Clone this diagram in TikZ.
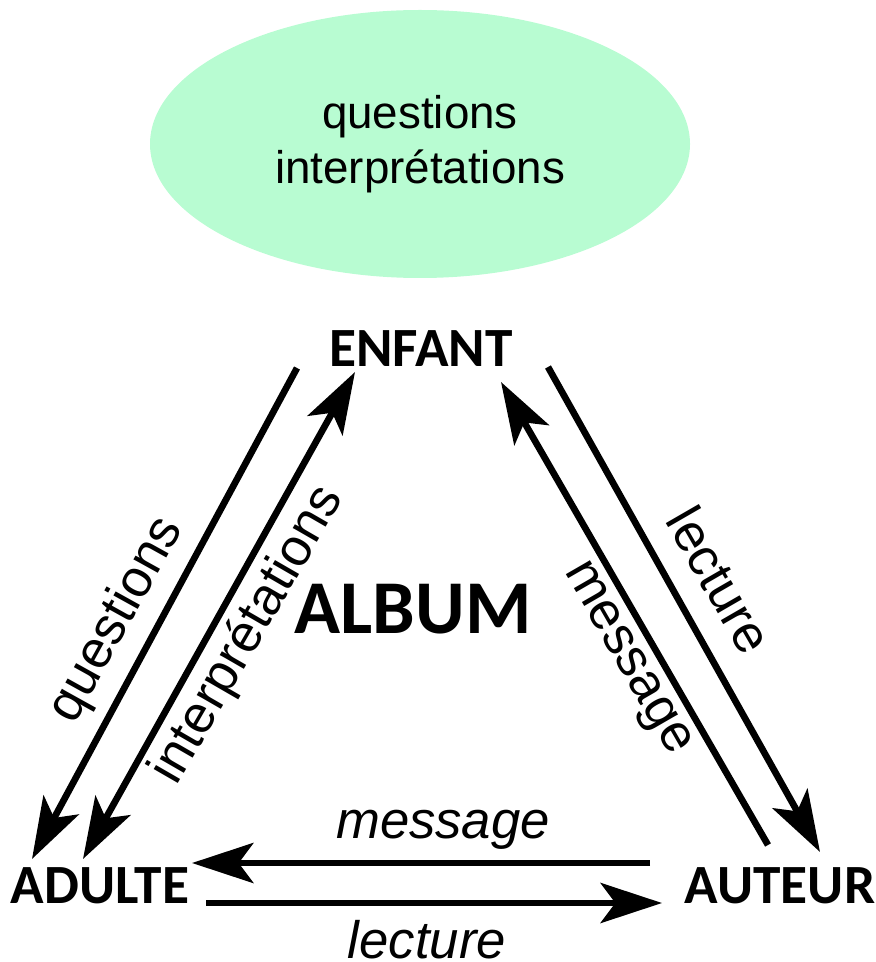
\documentclass[tikz,border=0pt]{standalone}
\usepackage{fontspec}
\setmainfont{Liberation Sans}
\newfontfamily\boldlabel{Carlito}
\usetikzlibrary{arrows.meta,shapes.geometric}
\definecolor{bubble}{HTML}{B8FCD2}
\tikzset{
  head/.tip={Stealth[length=46pt, width=30pt, inset=11pt]},
  pole/.style={font=\boldlabel\bfseries\fontsize{41.5}{46}\selectfont, inner sep=0pt, anchor=base},
  flow/.style={line width=5pt, -head},
  flowboth/.style={line width=5pt, head-head},
  tag/.style={font=\fontsize{39.5}{45}\selectfont, inner sep=0pt},
  itag/.style={font=\itshape\fontsize{39.5}{45}\selectfont, inner sep=0pt, anchor=base}
}
\begin{document}
\begin{tikzpicture}[x=0.75pt, y=-0.75pt]
\useasboundingbox (0,0) rectangle (875,962);

% top bubble
\node (bubble) [ellipse, fill=bubble, minimum width=405pt, minimum height=201pt,
  inner sep=0pt, align=center, font=\fontsize{34.3}{41.3}\selectfont] at (420,144)
  {questions\\interprétations};

% the three poles and the centre
\node (enfant) [pole] at (421,366) {ENFANT};
\node (adulte) [pole] at (100,903) {ADULTE};
\node (auteur) [pole] at (780,903) {AUTEUR};
\node (album) [pole, font=\boldlabel\bfseries\fontsize{57}{63}\selectfont] at (413,633) {ALBUM};

% connector end points
\coordinate (q1) at (297,368);  \coordinate (q2) at (32,859);
\coordinate (i1) at (83,859);   \coordinate (i2) at (355,372);
\coordinate (m1) at (768,845);  \coordinate (m2) at (501,382);
\coordinate (l1) at (548,367);  \coordinate (l2) at (820,852);
\coordinate (bm1) at (650,863); \coordinate (bm2) at (192,863);
\coordinate (bl1) at (206,903); \coordinate (bl2) at (662,903);

% connectors
\draw[flow] (q1) -- (q2);
\draw[flowboth] (i1) -- (i2);
\draw[flow] (m1) -- (m2);
\draw[flow] (l1) -- (l2);
\draw[flow] (bm1) -- (bm2);
\draw[flow] (bl1) -- (bl2);

% labels
\node (tq) [tag, rotate=61] at (117,620) {questions};
\node (ti) [tag, rotate=60] at (248,635) {interprétations};
\node (tm) [tag, rotate=-60] at (625,660) {message};
\node (tl) [tag, rotate=-60] at (720,580) {lecture};
\node (bm) [itag] at (443,838) {message};
\node (bl) [itag] at (427,958) {lecture};
\end{tikzpicture}
\end{document}
